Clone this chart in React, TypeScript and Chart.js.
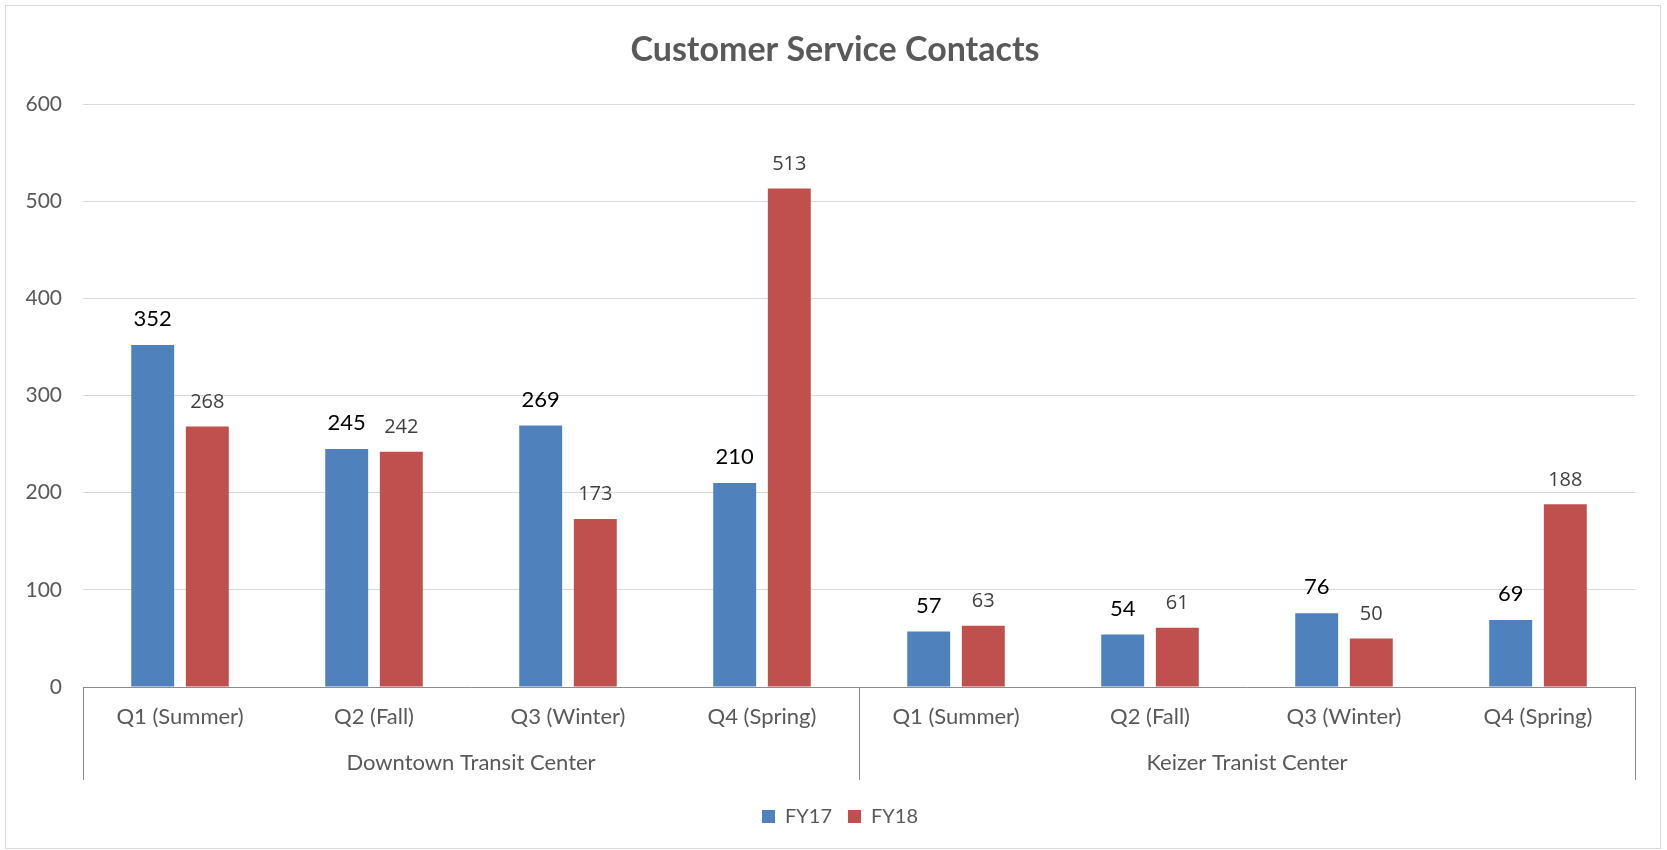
import React, { useEffect, useRef } from "react";
import { Chart, registerables } from "chart.js";

Chart.register(...registerables);

const categories = [
  "Q1 (Summer)", "Q2 (Fall)", "Q3 (Winter)", "Q4 (Spring)",
  "Q1 (Summer)", "Q2 (Fall)", "Q3 (Winter)", "Q4 (Spring)",
];
const groupNames = ["Downtown Transit Center", "Keizer Tranist Center"];
const groupSizes = [4, 4];
const fy17 = [352, 245, 269, 210, 57, 54, 76, 69];
const fy18 = [268, 242, 173, 513, 63, 61, 50, 188];
const seriesNames = ["FY17", "FY18"];
const yMin = 0;
const yMax = 600;
const yStep = 100;
const chartTitle = "Customer Service Contacts";

const BLUE = "#4F81BD";
const RED = "#C0504D";
const TEXT = "#595959";

const framePlugin = {
  id: "frame",
  beforeDraw(chart: any) {
    const { ctx, width, height } = chart;
    ctx.save();
    ctx.fillStyle = "#ffffff";
    ctx.fillRect(0, 0, width, height);
    ctx.strokeStyle = "#D9D9D9";
    ctx.lineWidth = 1;
    ctx.strokeRect(5.5, 5.5, width - 12, height - 7);
    ctx.restore();
  },
};

// shift title / legend centres to match the reference placement
const centerPlugin = {
  id: "centerShift",
  afterLayout(chart: any) {
    if (chart.titleBlock) chart.titleBlock.left = 35;
    if (chart.legend) chart.legend.left = 45;
  },
};

const groupAxisPlugin = {
  id: "groupAxis",
  afterDraw(chart: any) {
    const { ctx, chartArea } = chart;
    const n = categories.length;
    const cw = (chartArea.right - chartArea.left) / n;
    const top = chartArea.bottom;
    const lineBottom = top + 93;
    ctx.save();
    ctx.strokeStyle = "#8C8C8C";
    ctx.lineWidth = 1;
    let idx = 0;
    const bounds = [0];
    groupSizes.forEach((s) => {
      idx += s;
      bounds.push(idx);
    });
    bounds.forEach((b) => {
      const x = Math.round(chartArea.left + b * cw) + 0.5;
      ctx.beginPath();
      ctx.moveTo(x, top);
      ctx.lineTo(x, lineBottom);
      ctx.stroke();
    });
    ctx.fillStyle = TEXT;
    ctx.font = "22px Lato";
    ctx.textAlign = "center";
    ctx.textBaseline = "middle";
    groupNames.forEach((g, i) => {
      const x0 = chartArea.left + bounds[i] * cw;
      const x1 = chartArea.left + bounds[i + 1] * cw;
      ctx.fillText(g, (x0 + x1) / 2, top + 76);
    });
    ctx.restore();
  },
};

const dataLabelPlugin = {
  id: "dataLabels",
  afterDatasetsDraw(chart: any) {
    const { ctx } = chart;
    const styles = [
      { font: "22px Lato", color: "#000000", off: 19 },
      { font: "20px 'Open Sans'", color: "#404040", off: 18.5 },
    ];
    ctx.save();
    ctx.textAlign = "center";
    ctx.textBaseline = "alphabetic";
    chart.data.datasets.forEach((ds: any, di: number) => {
      const meta = chart.getDatasetMeta(di);
      const st = styles[di];
      ctx.font = st.font;
      ctx.fillStyle = st.color;
      meta.data.forEach((el: any, i: number) => {
        ctx.fillText(String(ds.data[i]), el.x, el.y - st.off);
      });
    });
    ctx.restore();
  },
};

export default function App() {
  const ref = useRef<HTMLCanvasElement | null>(null);

  useEffect(() => {
    document.body.style.margin = "0";
    const canvas = ref.current;
    if (!canvas) return;
    const chart = new Chart(canvas, {
      type: "bar",
      data: {
        labels: categories,
        datasets: [
          {
            label: seriesNames[0],
            data: fy17,
            backgroundColor: BLUE,
            borderWidth: 0,
            categoryPercentage: 0.563,
            barPercentage: 0.786,
          },
          {
            label: seriesNames[1],
            data: fy18,
            backgroundColor: RED,
            borderWidth: 0,
            categoryPercentage: 0.563,
            barPercentage: 0.786,
          },
        ],
      },
      options: {
        responsive: false,
        animation: false,
        devicePixelRatio: 1,
        layout: { padding: { left: 0, right: 32, top: 0, bottom: 13.5 } },
        plugins: {
          title: {
            display: true,
            text: chartTitle,
            color: TEXT,
            font: { family: "Lato", size: 34, weight: "bold" },
            padding: { top: 29.6, bottom: 33.6 },
          },
          legend: {
            display: true,
            position: "bottom",
            labels: {
              boxWidth: 13,
              boxHeight: 13,
              padding: 16,
              color: TEXT,
              font: { family: "Lato", size: 20 },
            },
          },
          tooltip: { enabled: false },
        },
        scales: {
          x: {
            grid: { display: false, drawTicks: false },
            border: { display: true, color: "#8C8C8C", width: 1 },
            ticks: {
              color: TEXT,
              font: { family: "Lato", size: 22 },
              padding: 17,
              maxRotation: 0,
              autoSkip: false,
            },
            afterFit(scale: any) {
              scale.height = 103.5;
            },
          },
          y: {
            min: yMin,
            max: yMax,
            grid: { color: "#D9D9D9", drawTicks: false },
            border: { display: false },
            ticks: {
              stepSize: yStep,
              color: TEXT,
              font: { family: "Lato", size: 21 },
              padding: 21,
            },
            afterFit(scale: any) {
              scale.width = 83;
            },
          },
        },
      },
      plugins: [framePlugin, centerPlugin, groupAxisPlugin, dataLabelPlugin],
    });
    return () => chart.destroy();
  }, []);

  return (
    <div style={{ position: "absolute", left: 0, top: 0, width: 1667, height: 850 }}>
      <canvas ref={ref} width={1667} height={850} style={{ display: "block" }} />
    </div>
  );
}
